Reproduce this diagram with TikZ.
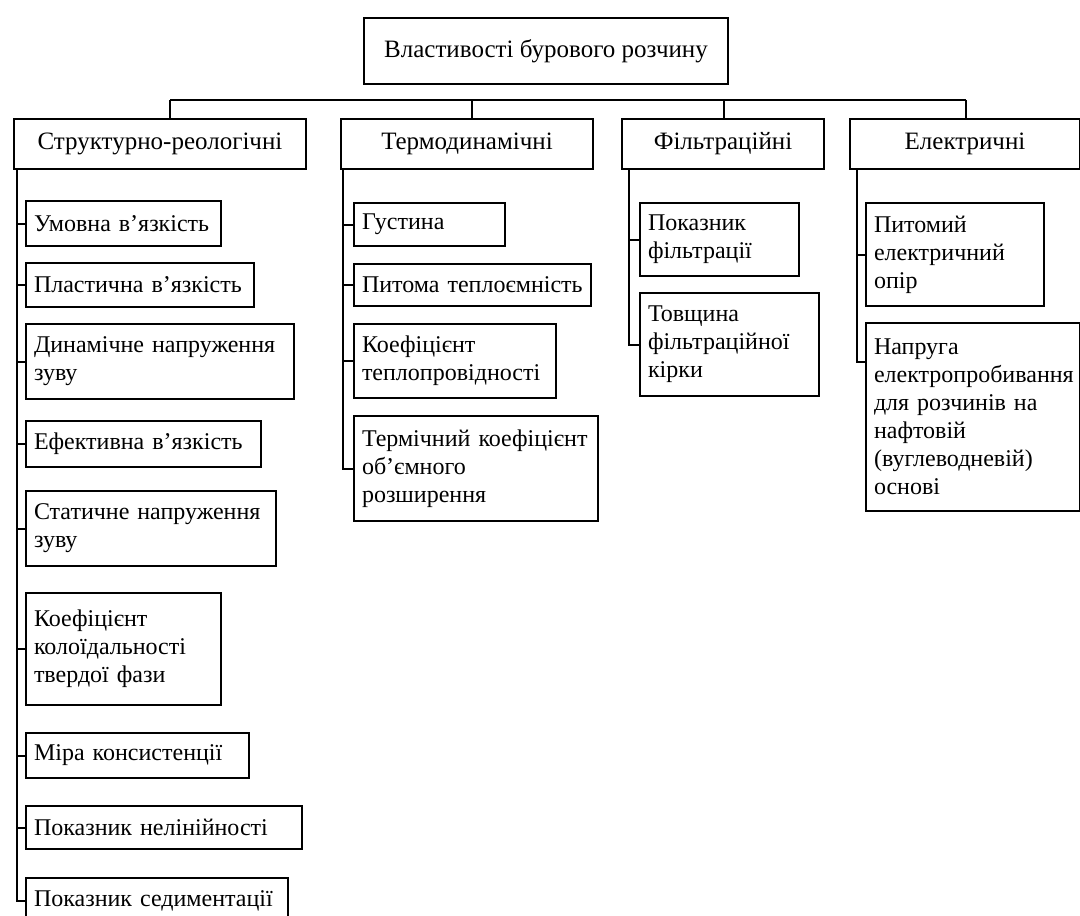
\documentclass[tikz,border=0pt]{standalone}
\usepackage{fontspec}
\setmainfont{Liberation Serif}
\usetikzlibrary{positioning,calc}

\tikzset{
  box/.style={draw,line width=1pt,anchor=north west,inner xsep=4pt,inner ysep=2pt,
    font=\fontsize{12}{14}\selectfont},
  link/.style={line width=1pt}
}

\begin{document}
\begin{tikzpicture}[x=0.5pt,y=-0.5pt]
  \useasboundingbox (0,0) rectangle (1080,915);
  % Корінь
  \node[box,minimum width=182pt,minimum height=33pt,align=center,
        font=\fontsize{12.5}{14}\selectfont] (root) at (363,17)
    {Властивості бурового розчину};
  % Групи
  \foreach \n/\x/\w/\lab in {
    s1/13/292/Структурно-реологічні,
    s2/340/252/Термодинамічні,
    s3/621/202/Фільтраційні,
    s4/849/230/Електричні}{
    \pgfmathsetmacro\mw{\w*0.5}
    \node[box,minimum width=\mw pt,minimum height=25pt,
          font=\fontsize{12.5}{14}\selectfont] (\n) at (\x,118) {\lab};
  }
  % Шина
  \coordinate (b1) at (170,100);
  \coordinate (b2) at (472,100);
  \coordinate (b3) at (724,100);
  \coordinate (b4) at (966,100);
  \draw[link] (b1) -- (b4);
  \foreach \i in {1,2,3,4}{
    \draw[link] (b\i) -- (b\i |- s\i.north);
  }
  % Підпункти
  \foreach \n/\x/\y/\w/\h/\lab in {
    u1/25/200/195/45/{Умовна в’язкість},
    u2/25/262/228/44/{Пластична в’язкість},
    u3/25/323/268/75/{Динамічне напруження\\зуву},
    u4/25/420/235/46/{Ефективна в’язкість},
    u5/25/490/250/75/{Статичне напруження\\зуву},
    u6/25/592/195/112/{Коефіцієнт\\колоїдальності\\твердої фази},
    u7/25/732/223/45/{Міра консистенції},
    u8/25/805/276/43/{Показник нелінійності},
    u9/25/877/262/45/{Показник седиментації},
    t1/353/202/151/43/{Густина},
    t2/353/263/237/42/{Питома теплоємність},
    t3/353/323/202/74/{Коефіцієнт\\теплопровідності},
    t4/353/415/244/105/{Термічний коефіцієнт\\об’ємного\\розширення},
    f1/639/202/159/73/{Показник\\фільтрації},
    f2/639/292/179/103/{Товщина\\фільтраційної\\кірки},
    e1/865/202/178/103/{Питомий\\електричний\\опір},
    e2/865/322/214/188/{Напруга\\електропробивання\\для розчинів на\\нафтовій\\(вуглеводневій)\\основі}}{
    \pgfmathsetmacro\mw{\w*0.5}
    \pgfmathsetmacro\tw{\w*0.5-8}
    \pgfmathsetmacro\mh{\h*0.5}
    \node[box,minimum width=\mw pt,text width=\tw pt,minimum height=\mh pt,
          align=left] (\n) at (\x,\y) {\lab};
  }
  % Стовбури
  \coordinate (k1) at (17,168);
  \coordinate (k2) at (343,168);
  \coordinate (k3) at (629,168);
  \coordinate (k4) at (857,168);
  \coordinate (e2t) at ($(e2.north west)+(0,40)$);
  \draw[link] (k1) |- (u9.west);
  \draw[link] (k2) |- (t4.west);
  \draw[link] (k3) |- (f2.west);
  \draw[link] (k4) |- (e2t);
  \foreach \n in {u1,u2,u3,u4,u5,u6,u7,u8}{
    \draw[link] (k1 |- \n.west) -- (\n.west);
  }
  \foreach \n in {t1,t2,t3}{
    \draw[link] (k2 |- \n.west) -- (\n.west);
  }
  \draw[link] (k3 |- f1.west) -- (f1.west);
  \draw[link] (k4 |- e1.west) -- (e1.west);
\end{tikzpicture}
\end{document}
